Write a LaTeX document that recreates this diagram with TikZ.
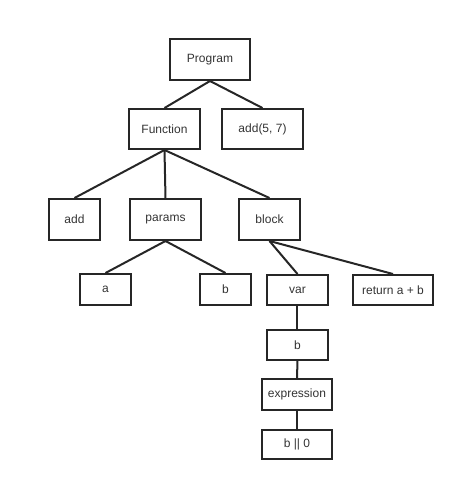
\documentclass[tikz,border=0pt]{standalone}
\usepackage{fontspec}
\setmainfont{Liberation Sans}
\begin{document}
\begin{tikzpicture}[x=0.75pt,y=-0.75pt,
  box/.style={draw=black!85,line width=1.5pt,inner sep=0pt,font=\fontsize{9}{10}\selectfont,text=black!80},
  link/.style={draw=black!85,line width=1.5pt}]
\useasboundingbox (0,0) rectangle (468,480);
\node[box,minimum width=60pt,minimum height=30.75pt] (prog) at (210,59.5) {Program};
\node[box,minimum width=53.25pt,minimum height=30pt] (func) at (164.5,129) {Function};
\node[box,minimum width=60.75pt,minimum height=30pt] (call) at (262.5,129) {add(5, 7)};
\node[box,minimum width=38.25pt,minimum height=30.75pt] (add) at (74.5,219.5) {add};
\node[box,minimum width=53.25pt,minimum height=30.75pt] (params) at (165.5,219.5) {params};
\node[box,minimum width=45.75pt,minimum height=30.75pt] (block) at (269.5,219.5) {block};
\node[box,minimum width=38.25pt,minimum height=23.25pt] (pa) at (105.5,289.5) {a};
\node[box,minimum width=38.25pt,minimum height=23.25pt] (pb) at (225.5,289.5) {b};
\node[box,minimum width=45.75pt,minimum height=22.5pt] (var) at (297.5,290) {var};
\node[box,minimum width=60pt,minimum height=22.5pt] (ret) at (393,290) {return a + b};
\node[box,minimum width=45.75pt,minimum height=22.5pt] (vb) at (297.5,345) {b};
\node[box,minimum width=52.5pt,minimum height=23.25pt] (expr) at (297,394.5) {expression};
\node[box,minimum width=52.5pt,minimum height=21.75pt] (bor) at (297,444.5) {b || 0};
\draw[link] (prog.south) -- (func.north);
\draw[link] (prog.south) -- (call.north);
\draw[link] (func.south) -- (add.north);
\draw[link] (func.south) -- (params.north);
\draw[link] (func.south) -- (block.north);
\draw[link] (params.south) -- (pa.north);
\draw[link] (params.south) -- (pb.north);
\draw[link] (block.south) -- (var.north);
\draw[link] (block.south) -- (ret.north);
\draw[link] (var.south) -- (vb.north);
\draw[link] (vb.south) -- (expr.north);
\draw[link] (expr.south) -- (bor.north);
\end{tikzpicture}
\end{document}
